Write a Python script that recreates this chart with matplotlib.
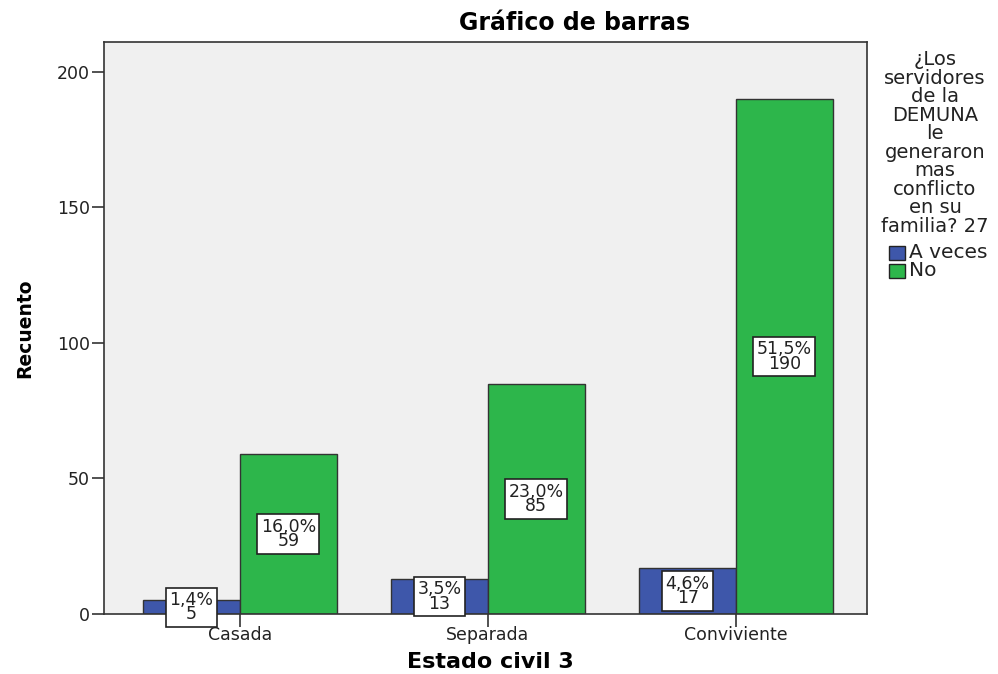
import numpy as np
import matplotlib.pyplot as plt

plt.rcParams['font.family'] = ['DejaVu Sans']

# data
categories = ['Casada', 'Separada', 'Conviviente']
a_veces = [5, 13, 17]
no = [59, 85, 190]
pct_a_veces = ['1,4%', '3,5%', '4,6%']
pct_no = ['16,0%', '23,0%', '51,5%']
series_names = ['A veces', 'No']
legend_title = '¿Los\nservidores\nde la\nDEMUNA\nle\ngeneraron\nmas\nconflicto\nen su\nfamilia? 27'

blue = '#3E57AA'
green = '#2DB64B'

fig = plt.figure(figsize=(9.98, 6.74), dpi=100)
ax = fig.add_axes([104 / 998, 1 - 614 / 674, (867 - 104) / 998, (614 - 42) / 674])
ax.set_facecolor('#F0F0F0')

x = np.arange(len(categories))
w = 0.39
ax.bar(x - w / 2, a_veces, w, color=blue, edgecolor='#333333', linewidth=1)
ax.bar(x + w / 2, no, w, color=green, edgecolor='#333333', linewidth=1)

box = dict(boxstyle='square,pad=0.2', facecolor='white', edgecolor='#222222', linewidth=1.2)
for i in range(len(categories)):
    ax.text(x[i] - w / 2, a_veces[i] / 2, pct_a_veces[i] + '\n' + str(a_veces[i]),
            ha='center', va='center', fontsize=12.5, linespacing=0.75, bbox=box, zorder=5,
            color='#222222')
    ax.text(x[i] + w / 2, no[i] / 2, pct_no[i] + '\n' + str(no[i]),
            ha='center', va='center', fontsize=12.5, linespacing=0.75, bbox=box, zorder=5,
            color='#222222')

ax.set_xlim(-0.548, 2.528)
ax.set_ylim(0, 211)
ax.set_yticks([0, 50, 100, 150, 200])
ax.set_xticks(x)
ax.set_xticklabels(categories)
ax.tick_params(axis='both', direction='out', labelsize=12.5, color='#333333', labelcolor='#222222')
ax.tick_params(axis='y', length=9, width=1.2, pad=1)
ax.tick_params(axis='x', length=9, width=1.2, pad=0)
for s in ax.spines.values():
    s.set_color('#333333')
    s.set_linewidth(1.2)

fig.text(490 / 998, 1 - 662 / 674, 'Estado civil 3', ha='center', va='center',
         fontsize=16, fontweight='bold')
fig.text(25 / 998, 1 - 328 / 674, 'Recuento', ha='center', va='center', rotation=90,
         fontsize=13.5, fontweight='bold')
fig.text(575 / 998, 1 - 23 / 674, 'Gráfico de barras', ha='center', va='center',
         fontsize=17, fontweight='bold')

# legend on the right
fig.text(935 / 998, 1 - 50 / 674, legend_title, ha='center', va='top', fontsize=14,
         linespacing=0.97, color='#222222')
for j, (name, col) in enumerate(zip(series_names, [blue, green])):
    y0 = 1 - (260 + j * 18) / 674
    fig.patches.append(plt.Rectangle((889 / 998, y0), 16 / 998, 14 / 674, transform=fig.transFigure,
                                     facecolor=col, edgecolor='#222222', linewidth=1))
    fig.text(909 / 998, y0 + 7 / 674, name, ha='left', va='center', fontsize=14.5, color='#222222')

fig.savefig('out.png', dpi=100)
